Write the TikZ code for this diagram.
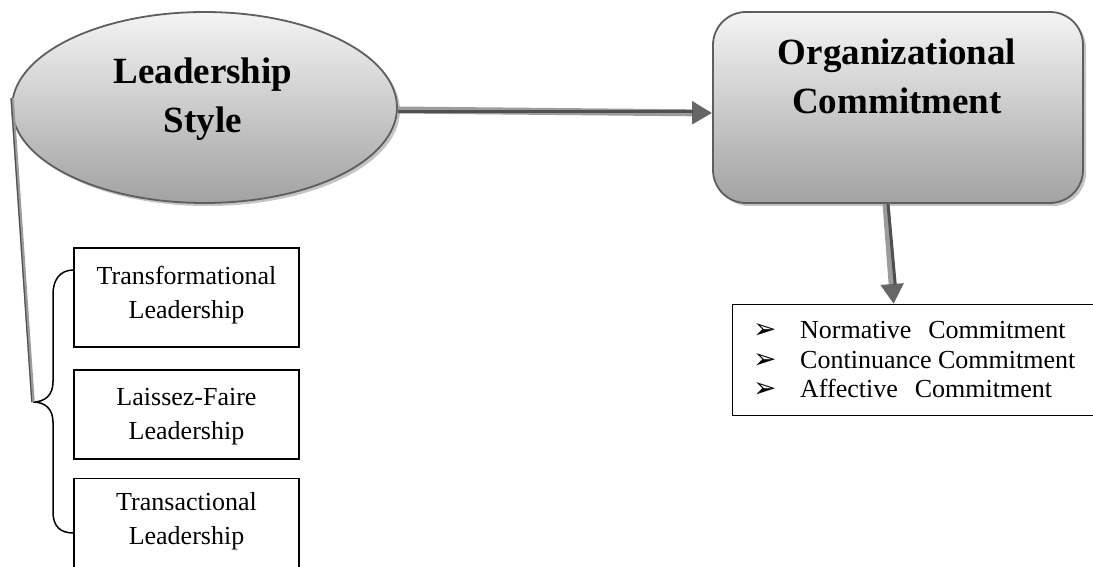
\documentclass[tikz,border=0pt]{standalone}
\usepackage{fontspec}
\setmainfont{Liberation Serif}
\newfontfamily\dejavu{DejaVu Sans}
\usetikzlibrary{shapes.geometric,arrows.meta,shadows,calc}
\definecolor{edgegray}{HTML}{5E5E5E}
\definecolor{shadowgray}{HTML}{C4C4C4}
\definecolor{topgray}{HTML}{F4F4F4}
\definecolor{botgray}{HTML}{A2A2A2}
\definecolor{arrowlight}{HTML}{9C9C9C}
\definecolor{arrowdark}{HTML}{505050}
\definecolor{headgray}{HTML}{666666}
\newcommand{\bul}{{\dejavu\fontsize{28}{28}\selectfont ➢}}
\tikzset{
  mainshape/.style={draw=edgegray, line width=1.8pt, top color=topgray, bottom color=botgray,
    drop shadow={shadow xshift=3pt, shadow yshift=-3pt, fill=shadowgray, opacity=1}},
  headtext/.style={font=\bfseries\fontsize{37}{49}\selectfont, align=center, inner sep=0pt},
  leafbox/.style={draw=black, line width=1.3pt, minimum width=225pt, inner sep=0pt},
  leaftext/.style={font=\fontsize{26}{34}\selectfont, align=center, inner sep=0pt},
  fatarrow/.style={line width=7pt, color=arrowlight, -{Triangle[length=20pt,width=22pt,color=headgray]}},
  fatcore/.style={line width=3pt, color=arrowdark},
}
\begin{document}
\begin{tikzpicture}[x=1pt,y=-1pt]
\useasboundingbox (0,0) rectangle (1093,567);
\clip (0,0) rectangle (1093,567);

% main shapes
\node[mainshape, ellipse, minimum width=385pt, minimum height=191pt] (ls) at (204.5,107.5) {};
\node[headtext] (lstext) at (203,99) {Leadership\\Style};

\node[mainshape, rectangle, rounded corners=33pt, minimum width=370pt, minimum height=191pt] (oc) at (898,107.5) {};
\node[headtext] (octext) at (897,76.5) {Organizational\\Commitment};

% left leaf boxes
\node[leafbox, minimum height=99pt] (b1) at (186.5,297.5) {};
\node[leaftext] (b1t) at (186.5,295.5) {Transformational\\Leadership};
\node[leafbox, minimum height=89pt] (b2) at (186.5,414.5) {};
\node[leaftext] (b2t) at (186.5,416.5) {Laissez-Faire\\Leadership};
\node[leafbox, minimum height=120pt, anchor=north] (b3) at (186.5,478) {};
\node[leaftext] (b3t) at (186.5,521) {Transactional\\Leadership};

% right list box
\node[draw=black, line width=1.3pt, minimum width=380pt, minimum height=111pt, anchor=north west, inner sep=0pt] (lc) at (732,304) {};
\node[anchor=north west, inner sep=0pt, font=\fontsize{26}{29.5}\selectfont] (lct) at (753,317.9) {%
\begin{tabular}{@{}l@{}}
\makebox[47pt][l]{\bul}Normative\hspace{17pt}Commitment\\
\makebox[47pt][l]{\bul}Continuance Commitment\\
\makebox[47pt][l]{\bul}Affective\hspace{17pt}Commitment
\end{tabular}};

% brace
\coordinate (bt) at (33,402);
\draw[line width=1.5pt, black]
  (b1.west |- 0,270) .. controls (60,270) and (53,280) .. (53,294)
  -- (53,382) .. controls (53,395) and (45,402) .. (bt)
  .. controls (45,402) and (53,409) .. (53,422)
  -- (53,512) .. controls (53,526) and (60,533) .. (b3.west |- 0,533);

% connector ellipse -> brace
\draw[line width=3.5pt, color=arrowlight] ([xshift=1pt,yshift=9.5pt]ls.west) -- (bt);
\draw[line width=1.2pt, color=arrowdark] ([xshift=0pt,yshift=9.5pt]ls.west) -- ([xshift=-1.2pt]bt);

% arrow ellipse -> organizational commitment
\draw[fatarrow] ([yshift=-2.5pt]ls.east) -- ([yshift=-5.5pt]oc.west);
\draw[fatcore] ([yshift=-4.5pt]ls.east) -- ([yshift=-4.5pt,xshift=-19pt]oc.west);

% arrow organizational commitment -> list
\draw[fatarrow] ([xshift=-12pt]oc.south) -- ([xshift=-29pt]lc.north);
\draw[fatcore] ([xshift=-10pt]oc.south) -- ([xshift=-27.4pt,yshift=19pt]lc.north);
\end{tikzpicture}
\end{document}
